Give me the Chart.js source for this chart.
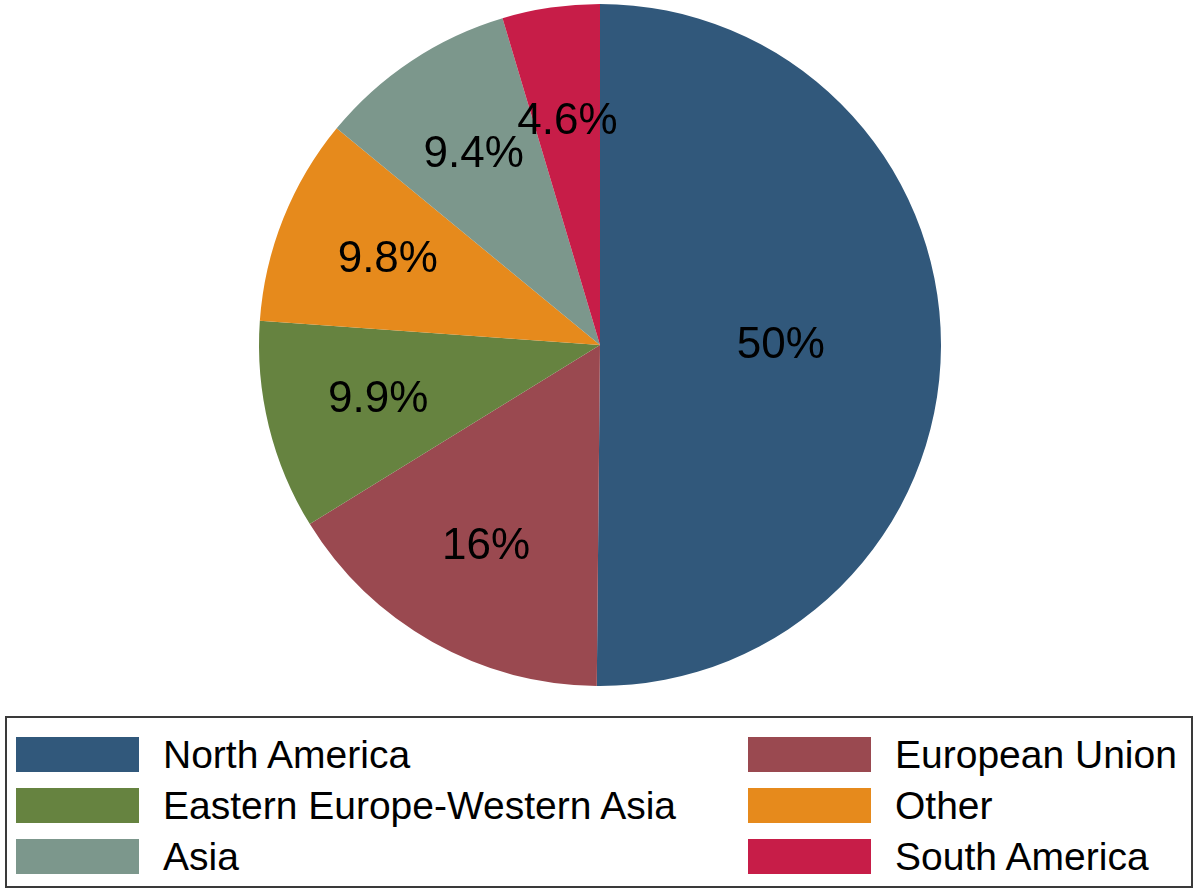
<!DOCTYPE html>
<html>
<head>
<meta charset="utf-8">
<script src="https://cdn.jsdelivr.net/npm/chart.js@4/dist/chart.umd.min.js"></script>
<style>
  body { margin: 0; background: #fff; font-family: "Liberation Sans", Arial, sans-serif; }
  #wrap { position: relative; width: 1200px; height: 895px; overflow: hidden; }
  #chartBox { position: absolute; left: 0; top: 0; width: 1200px; height: 690px; }
  #legend {
    position: absolute; left: 5px; top: 716px; width: 1188px; height: 172px;
    border: 2px solid #3a3a3a; box-sizing: border-box;
    display: grid; grid-template-columns: 732px 1fr;
    grid-auto-rows: 51px; padding: 19px 0 0 9px;
  }
  #legend .item { display: flex; align-items: center; height: 35px; }
  #legend .sw { width: 123px; height: 35px; margin-right: 24px; flex: none; }
  #legend .txt { font-size: 39px; color: #000; line-height: 35px; white-space: nowrap; }
</style>
</head>
<body>
<div id="wrap">
  <div id="chartBox"><canvas id="pie"></canvas></div>
  <div id="legend"></div>
</div>
<script>
// donnees du graphique
const regions = ["North America", "European Union", "Eastern Europe-Western Asia", "Other", "Asia", "South America"];
const shares = [50, 16, 9.9, 9.8, 9.4, 4.6];
const shareLabels = ["50%", "16%", "9.9%", "9.8%", "9.4%", "4.6%"];
const colors = ["#31587b", "#9a4950", "#668340", "#e68a1c", "#7c978c", "#c71d48"];

// distance des etiquettes (fraction du rayon)
const labelDist = [0.53, 0.68, 0.67, 0.67, 0.67, 0.66];

const sliceLabels = {
    id: "sliceLabels",
    afterDatasetsDraw(chart) {
        const ctx = chart.ctx;
        const arcs = chart.getDatasetMeta(0).data;
        ctx.save();
        ctx.font = "44px 'Liberation Sans', Arial, sans-serif";
        ctx.fillStyle = "#000";
        ctx.textAlign = "center";
        ctx.textBaseline = "middle";
        arcs.forEach((arc, i) => {
            const p = arc.getProps(["x", "y", "startAngle", "endAngle", "outerRadius"], true);
            const mid = (p.startAngle + p.endAngle) / 2;
            const r = p.outerRadius * labelDist[i];
            ctx.fillText(shareLabels[i], p.x + Math.cos(mid) * r, p.y + Math.sin(mid) * r);
        });
        ctx.restore();
    }
};

new Chart(document.getElementById("pie"), {
    type: "pie",
    data: {
        labels: regions,
        datasets: [{
            data: shares,
            backgroundColor: colors,
            borderWidth: 0
        }]
    },
    options: {
        responsive: true,
        maintainAspectRatio: false,
        animation: false,
        layout: { padding: { top: 4, bottom: 4 } },
        plugins: {
            legend: { display: false },
            tooltip: { enabled: false }
        }
    },
    plugins: [sliceLabels]
});

// legende en HTML
const legend = document.getElementById("legend");
regions.forEach((name, i) => {
    const item = document.createElement("div");
    item.className = "item";
    item.innerHTML = `<span class="sw" style="background:${colors[i]}"></span><span class="txt">${name}</span>`;
    legend.appendChild(item);
});
</script>
</body>
</html>
